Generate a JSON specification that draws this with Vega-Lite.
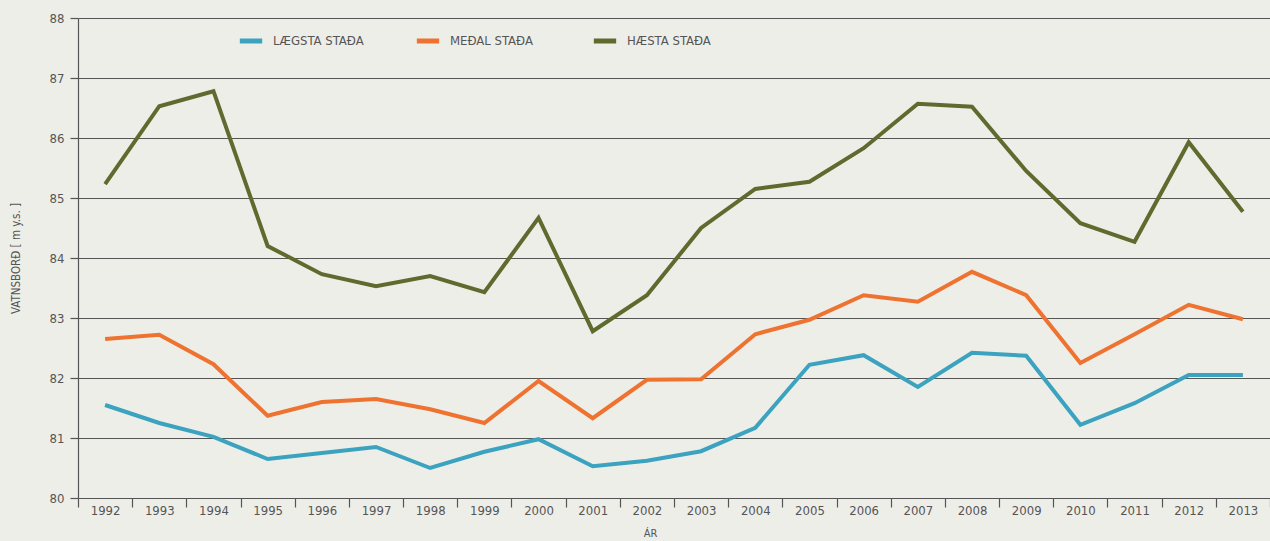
{
  "$schema": "https://vega.github.io/schema/vega-lite/v6.json",
  "width": 1192,
  "height": 480,
  "autosize": {"type": "none"},
  "padding": {"left": 78, "top": 18, "right": 0, "bottom": 43},
  "background": "#eeeee9",
  "config": {
    "view": {"stroke": null},
    "font": "DejaVu Sans Condensed",
    "axis": {"labelFont": "DejaVu Sans Condensed", "titleFont": "DejaVu Sans Condensed", "labelColor": "#555555", "titleColor": "#555555", "labelFontWeight": "normal", "titleFontWeight": "normal"}
  },
  "datasets": {
    "d": [
      {"year": "1992", "series": "LÆGSTA STAÐA", "value": 81.55},
      {"year": "1993", "series": "LÆGSTA STAÐA", "value": 81.25},
      {"year": "1994", "series": "LÆGSTA STAÐA", "value": 81.02},
      {"year": "1995", "series": "LÆGSTA STAÐA", "value": 80.65},
      {"year": "1996", "series": "LÆGSTA STAÐA", "value": 80.75},
      {"year": "1997", "series": "LÆGSTA STAÐA", "value": 80.85},
      {"year": "1998", "series": "LÆGSTA STAÐA", "value": 80.5},
      {"year": "1999", "series": "LÆGSTA STAÐA", "value": 80.77},
      {"year": "2000", "series": "LÆGSTA STAÐA", "value": 80.98},
      {"year": "2001", "series": "LÆGSTA STAÐA", "value": 80.53},
      {"year": "2002", "series": "LÆGSTA STAÐA", "value": 80.62},
      {"year": "2003", "series": "LÆGSTA STAÐA", "value": 80.78},
      {"year": "2004", "series": "LÆGSTA STAÐA", "value": 81.17},
      {"year": "2005", "series": "LÆGSTA STAÐA", "value": 82.22},
      {"year": "2006", "series": "LÆGSTA STAÐA", "value": 82.38},
      {"year": "2007", "series": "LÆGSTA STAÐA", "value": 81.85},
      {"year": "2008", "series": "LÆGSTA STAÐA", "value": 82.42},
      {"year": "2009", "series": "LÆGSTA STAÐA", "value": 82.37},
      {"year": "2010", "series": "LÆGSTA STAÐA", "value": 81.22},
      {"year": "2011", "series": "LÆGSTA STAÐA", "value": 81.58},
      {"year": "2012", "series": "LÆGSTA STAÐA", "value": 82.05},
      {"year": "2013", "series": "LÆGSTA STAÐA", "value": 82.05},
      {"year": "1992", "series": "MEÐAL STAÐA", "value": 82.65},
      {"year": "1993", "series": "MEÐAL STAÐA", "value": 82.72},
      {"year": "1994", "series": "MEÐAL STAÐA", "value": 82.23},
      {"year": "1995", "series": "MEÐAL STAÐA", "value": 81.37},
      {"year": "1996", "series": "MEÐAL STAÐA", "value": 81.6},
      {"year": "1997", "series": "MEÐAL STAÐA", "value": 81.65},
      {"year": "1998", "series": "MEÐAL STAÐA", "value": 81.48},
      {"year": "1999", "series": "MEÐAL STAÐA", "value": 81.25},
      {"year": "2000", "series": "MEÐAL STAÐA", "value": 81.95},
      {"year": "2001", "series": "MEÐAL STAÐA", "value": 81.33},
      {"year": "2002", "series": "MEÐAL STAÐA", "value": 81.97},
      {"year": "2003", "series": "MEÐAL STAÐA", "value": 81.98},
      {"year": "2004", "series": "MEÐAL STAÐA", "value": 82.73},
      {"year": "2005", "series": "MEÐAL STAÐA", "value": 82.97},
      {"year": "2006", "series": "MEÐAL STAÐA", "value": 83.38},
      {"year": "2007", "series": "MEÐAL STAÐA", "value": 83.27},
      {"year": "2008", "series": "MEÐAL STAÐA", "value": 83.77},
      {"year": "2009", "series": "MEÐAL STAÐA", "value": 83.38},
      {"year": "2010", "series": "MEÐAL STAÐA", "value": 82.25},
      {"year": "2011", "series": "MEÐAL STAÐA", "value": 82.73},
      {"year": "2012", "series": "MEÐAL STAÐA", "value": 83.22},
      {"year": "2013", "series": "MEÐAL STAÐA", "value": 82.98},
      {"year": "1992", "series": "HÆSTA STAÐA", "value": 85.23},
      {"year": "1993", "series": "HÆSTA STAÐA", "value": 86.53},
      {"year": "1994", "series": "HÆSTA STAÐA", "value": 86.78},
      {"year": "1995", "series": "HÆSTA STAÐA", "value": 84.2},
      {"year": "1996", "series": "HÆSTA STAÐA", "value": 83.73},
      {"year": "1997", "series": "HÆSTA STAÐA", "value": 83.53},
      {"year": "1998", "series": "HÆSTA STAÐA", "value": 83.7},
      {"year": "1999", "series": "HÆSTA STAÐA", "value": 83.43},
      {"year": "2000", "series": "HÆSTA STAÐA", "value": 84.67},
      {"year": "2001", "series": "HÆSTA STAÐA", "value": 82.78},
      {"year": "2002", "series": "HÆSTA STAÐA", "value": 83.38},
      {"year": "2003", "series": "HÆSTA STAÐA", "value": 84.5},
      {"year": "2004", "series": "HÆSTA STAÐA", "value": 85.15},
      {"year": "2005", "series": "HÆSTA STAÐA", "value": 85.27},
      {"year": "2006", "series": "HÆSTA STAÐA", "value": 85.83},
      {"year": "2007", "series": "HÆSTA STAÐA", "value": 86.57},
      {"year": "2008", "series": "HÆSTA STAÐA", "value": 86.52},
      {"year": "2009", "series": "HÆSTA STAÐA", "value": 85.45},
      {"year": "2010", "series": "HÆSTA STAÐA", "value": 84.58},
      {"year": "2011", "series": "HÆSTA STAÐA", "value": 84.27},
      {"year": "2012", "series": "HÆSTA STAÐA", "value": 85.93},
      {"year": "2013", "series": "HÆSTA STAÐA", "value": 84.77}
    ]
  },
  "data": {"name": "d"},
  "mark": {"type": "line", "strokeWidth": 4, "strokeJoin": "miter", "strokeCap": "butt"},
  "encoding": {
    "x": {
      "field": "year", "type": "ordinal",
      "scale": {"type": "band", "paddingInner": 0, "paddingOuter": 0},
      "axis": {
        "title": "ÁR", "titleFontSize": 11, "titleX": 572, "titleY": 29, "titleAnchor": "middle", "titleAlign": "center",
        "labelAngle": 0, "labelFontSize": 13, "labelPadding": -3,
        "domain": false, "ticks": true, "tickBand": "extent", "tickSize": 9, "tickColor": "#555555", "tickWidth": 1.2,
        "grid": false
      }
    },
    "y": {
      "field": "value", "type": "quantitative",
      "scale": {"domain": [80, 88], "nice": false, "zero": false},
      "axis": {
        "title": "VATNSBORÐ [ m y.s. ]", "titleFontSize": 11.5, "titlePadding": 28,
        "values": [80, 81, 82, 83, 84, 85, 86, 87, 88],
        "labelFontSize": 13, "labelPadding": 6,
        "domain": true, "domainColor": "#555555", "domainWidth": 1.2,
        "ticks": true, "tickSize": 8, "tickColor": "#555555", "tickWidth": 1.2,
        "grid": true, "gridColor": "#555555", "gridWidth": 1.2, "gridOpacity": 1
      }
    },
    "color": {
      "field": "series", "type": "nominal",
      "scale": {"domain": ["LÆGSTA STAÐA", "MEÐAL STAÐA", "HÆSTA STAÐA"], "range": ["#3ba3bf", "#ef7330", "#5f6b2e"]},
      "sort": ["LÆGSTA STAÐA", "MEÐAL STAÐA", "HÆSTA STAÐA"],
      "legend": {
        "title": null, "orient": "none", "direction": "horizontal",
        "legendX": 159, "legendY": 9,
        "symbolType": "stroke", "symbolStrokeWidth": 5, "symbolSize": 500,
        "labelFontSize": 13, "labelColor": "#555555", "labelFont": "DejaVu Sans Condensed",
        "gridAlign": "all", "columnPadding": 42, "labelOffset": 8, "symbolLimit": 0
      }
    }
  }
}
